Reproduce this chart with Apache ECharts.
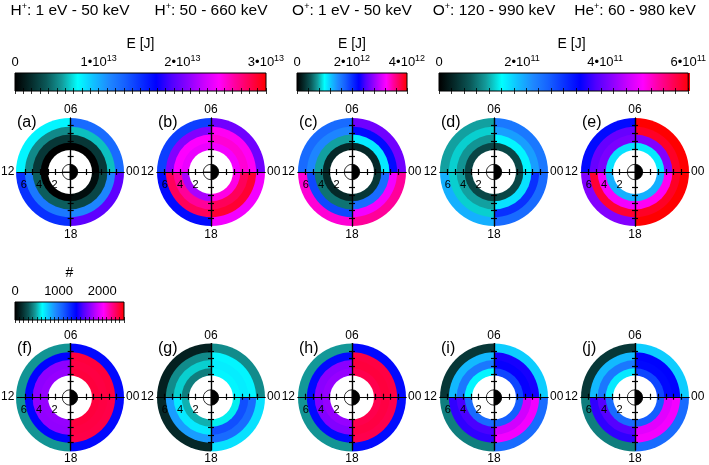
<!DOCTYPE html>
<html><head><meta charset="utf-8">
<script src="https://cdn.jsdelivr.net/npm/echarts@6/dist/echarts.min.js"></script>
<style>html,body{margin:0;padding:0;background:#fff}#c{width:709px;height:465px}</style>
</head><body><div id="c"></div><script>
// ================= DATA =================
const sectors = ['06-00', '00-18', '18-12', '12-06'];      // MLT quadrants
const lBins = [2.85, 3.8, 4.85, 5.85, 7.0];                 // radial bin edges [R_E]
const earthRadius = 1;
const crossTicks = [-6, -5, -4, -3, -2, 2, 3, 4, 5, 6];
const crossLabels = [-6, -4, -2];
const panelLetters = ['(a)', '(b)', '(c)', '(d)', '(e)', '(f)', '(g)', '(h)', '(i)', '(j)'];
const ionNames = ['H', 'H', 'O', 'O', 'He'];
const energyRanges = [': 1 eV - 50 keV', ': 50 - 660 keV', ': 1 eV - 50 keV', ': 120 - 990 keV', ': 60 - 980 keV'];

// each panel: per sector [ring1(inner) .. ring4(outer)]
const panel_a = [[0.00e13, 0.24e13, 0.63e13, 1.26e13], [0.06e13, 0.30e13, 1.14e13, 1.92e13], [0.00e13, 0.39e13, 1.20e13, 1.50e13], [0.00e13, 0.24e13, 0.51e13, 0.78e13]];
const panel_b = [[2.40e13, 2.52e13, 2.46e13, 1.98e13], [2.49e13, 2.79e13, 2.88e13, 2.40e13], [2.16e13, 2.64e13, 2.79e13, 1.65e13], [2.37e13, 2.43e13, 2.04e13, 1.44e13]];
const panel_c = [[0.24e12, 1.08e12, 2.20e12, 2.64e12], [0.32e12, 1.68e12, 3.20e12, 3.52e12], [0.24e12, 0.60e12, 1.88e12, 3.36e12], [0.24e12, 0.76e12, 1.52e12, 1.68e12]];
const panel_d = [[0.60e11, 1.56e11, 2.10e11, 2.40e11], [0.60e11, 1.68e11, 3.00e11, 2.52e11], [0.60e11, 1.14e11, 1.32e11, 1.98e11], [0.60e11, 1.08e11, 1.32e11, 1.14e11]];
const panel_e = [[1.62e11, 4.08e11, 5.82e11, 6.00e11], [1.98e11, 4.92e11, 5.82e11, 6.00e11], [1.98e11, 4.80e11, 5.76e11, 4.08e11], [1.68e11, 4.02e11, 3.90e11, 3.30e11]];
const panel_f = [[2380, 2370, 2380, 1380], [2380, 2370, 2360, 1380], [1750, 1740, 1400, 450], [1750, 1730, 1400, 450]];
const panel_g = [[650, 670, 650, 430], [600, 1150, 1050, 700], [500, 680, 880, 150], [400, 550, 430, 120]];
const panel_h = [[2350, 2380, 2370, 1380], [2350, 2370, 2350, 1370], [1750, 1700, 1380, 450], [1750, 1720, 1380, 460]];
const panel_i = [[1180, 1420, 1450, 750], [1100, 1900, 2000, 1050], [1050, 1550, 1500, 400], [650, 1000, 800, 200]];
const panel_j = [[1180, 1380, 1400, 750], [1100, 1950, 2000, 1050], [1050, 1580, 1500, 400], [680, 1000, 800, 200]];
const panels = [panel_a, panel_b, panel_c, panel_d, panel_e, panel_f, panel_g, panel_h, panel_i, panel_j];
const panelScale = [0, 0, 1, 2, 2, 3, 3, 3, 3, 3];

// colour scales
const scaleRanges = [[0, 3e13], [0, 4e12], [0, 6e11], [0, 2500]];
const scaleTickSteps = [1e12, 4e11, 3e10, 100];
const scaleLabels = [[0, 1e13, 2e13, 3e13], [0, 2e12, 4e12], [0, 2e11, 4e11, 6e11], [0, 1000, 2000]];
const scaleNames = ['E [J]', 'E [J]', 'E [J]', '#'];
const cmap = ['#000000', '#052a2a', '#0b5858', '#139c9c', '#00ffff', '#10c0ff', '#1e88ff', '#1560ff', '#0830ff',
              '#0000ff', '#5000ff', '#8a00ff', '#c800ff', '#ff00ff', '#ff00a0', '#ff0050', '#ff0000'];

// ================= LAYOUT =================
const FONT = '"Liberation Sans", Arial, Helvetica, sans-serif';
const colX = [70, 211, 352, 494, 635];
const rowY = [172, 397.5];
const R = 54;
const cbBoxes = [
  {left: 15, top: 73, width: 251, height: 18},
  {left: 297, top: 73, width: 110, height: 18},
  {left: 439, top: 73, width: 251, height: 18},
  {left: 15, top: 302, width: 109, height: 18}
];
const cbNamePad = [[0, 0, 0, 0], [0, 0, 0, 0], [0, 0, 0, 16], [0, 0, 0, 0]];
const earthSide = ['#000', '#000', '#fff', '#fff'];

const polar = [], angleAxis = [], radiusAxis = [], series = [], grid = [], xAxis = [], yAxis = [], graphic = [];
const vmSeries = [[], [], [], []];
const rMax = lBins[lBins.length - 1];
const hidden = {axisLine: {show: false}, axisTick: {show: false}, axisLabel: {show: false}, splitLine: {show: false}};
const axLine = {color: '#000', width: 1.2};

panels.forEach((pd, i) => {
  const cx = colX[i % 5], cy = rowY[Math.floor(i / 5)];
  polar.push({center: [cx, cy], radius: R});
  angleAxis.push(Object.assign({polarIndex: i, type: 'category', data: sectors, startAngle: 90, clockwise: true}, hidden));
  radiusAxis.push(Object.assign({polarIndex: i, type: 'value', min: 0, max: rMax}, hidden));
  const base = {type: 'bar', coordinateSystem: 'polar', polarIndex: i, barGap: '-100%', barCategoryGap: '0%',
    silent: true, animation: false};
  // rings drawn from the outside in; each bar reaches the ring's outer edge
  for (let k = 3; k >= 0; k--) {
    vmSeries[panelScale[i]].push(series.length);
    series.push(Object.assign({}, base, {
      itemStyle: {borderWidth: 0},
      data: sectors.map((s, q) => [lBins[k + 1], q, pd[q][k]])
    }));
  }
  series.push(Object.assign({}, base, {
    data: sectors.map((s, q) => [lBins[0], q]),
    itemStyle: {color: '#fff', borderWidth: 0}
  }));
  series.push(Object.assign({}, base, {
    data: sectors.map((s, q) => ({value: [earthRadius, q], itemStyle: {color: earthSide[q]}})),
    itemStyle: {borderColor: '#000', borderWidth: 0.8}
  }));
  // cross axes (lines + ticks)
  const gi = grid.length;
  grid.push({left: cx - R, top: cy - R, width: 2 * R, height: 2 * R, z: 10});
  const xa = (g, pos, extra) => Object.assign({
    gridIndex: g, type: 'value', position: pos, min: -rMax, max: rMax, z: 10,
    splitLine: {show: false},
    axisLine: {onZero: true, lineStyle: axLine},
    axisTick: {show: true, inside: false, length: 3, customValues: crossTicks, lineStyle: axLine},
    axisLabel: {show: false},
    nameTextStyle: {fontSize: 12, fontFamily: FONT, color: '#000'}
  }, extra);
  const sideName = {fontSize: 12, fontFamily: FONT, color: '#000', padding: [0, 0, 5, 0]};
  xAxis.push(xa(gi, 'bottom', {name: '12', nameLocation: 'start', nameGap: 3, nameTextStyle: sideName}));
  xAxis.push(xa(gi, 'top', {name: '00', nameLocation: 'end', nameGap: 2, nameTextStyle: sideName}));
  yAxis.push(xa(gi, 'left', {name: '18', nameLocation: 'start', nameGap: 3}));
  yAxis.push(xa(gi, 'right', {name: '06', nameLocation: 'end', nameGap: 2}));
  // radial distance labels under the 12 MLT half-axis
  const gl = grid.length;
  grid.push({left: cx - R, top: cy - R, width: 2 * R, height: R, z: 10});
  xAxis.push({gridIndex: gl, type: 'value', position: 'bottom', min: -rMax, max: rMax, z: 10,
    axisLine: {show: false, onZero: false}, axisTick: {show: false}, splitLine: {show: false},
    axisLabel: {show: true, customValues: crossLabels, formatter: v => String(Math.abs(v)), margin: 7,
      fontSize: 11, fontFamily: FONT, color: '#000'}});
  yAxis.push({gridIndex: gl, type: 'value', min: 0, max: 1, show: false});
  graphic.push({type: 'text', x: cx - 53, y: cy - 49, z: 20,
    style: {text: panelLetters[i], fontSize: 16, fontFamily: FONT, fill: '#000', align: 'left', verticalAlign: 'middle'}});
});

// titles
ionNames.forEach((ion, c) => {
  graphic.push({type: 'text', x: colX[c], y: 11, z: 20, style: {
    text: '{n|' + ion + '}{s|+}{n|' + energyRanges[c] + '}', align: 'center', verticalAlign: 'middle',
    rich: {n: {fontSize: 15.5, fontFamily: FONT, fill: '#000', lineHeight: 18},
           s: {fontSize: 9, fontFamily: FONT, fill: '#000', lineHeight: 9, verticalAlign: 'top'}}
  }});
});

// colour bars
const sci = v => {
  if (v === 0) return '{b|0}';
  const e = Math.floor(Math.log10(v) + 1e-9);
  const m = Math.round(v / Math.pow(10, e));
  return '{b|' + m + '•10}{s|' + e + '}';
};
const grad = new echarts.graphic.LinearGradient(0, 0, 1, 0, cmap.map((c, i) => ({offset: i / (cmap.length - 1), color: c})));
cbBoxes.forEach((cb, j) => {
  graphic.push({type: 'rect', z: 0, shape: {x: cb.left, y: cb.top, width: cb.width, height: cb.height}, style: {fill: grad}});
  const gi = grid.length;
  grid.push(Object.assign({show: true, borderColor: '#000', borderWidth: 1, backgroundColor: 'transparent', z: 5}, cb));
  const common = {gridIndex: gi, type: 'value', min: scaleRanges[j][0], max: scaleRanges[j][1], interval: scaleTickSteps[j], z: 10,
    splitLine: {show: false}, axisLine: {show: false},
    axisTick: {show: true, inside: true, length: 3, lineStyle: {color: '#000', width: 0.8}}};
  xAxis.push(Object.assign({}, common, {position: 'top',
    name: scaleNames[j], nameLocation: 'middle', nameGap: 22,
    nameTextStyle: {fontSize: 14, fontFamily: FONT, color: '#000', padding: cbNamePad[j]},
    axisLabel: {show: true, customValues: scaleLabels[j], margin: 3, showMinLabel: true, showMaxLabel: true,
      formatter: v => j === 3 ? '{b|' + v + '}' : sci(v),
      rich: {b: {fontSize: 13, fontFamily: FONT, color: '#000', lineHeight: 16},
             s: {fontSize: 9, fontFamily: FONT, color: '#000', lineHeight: 9, verticalAlign: 'top'}}}}));
  xAxis.push(Object.assign({}, common, {position: 'bottom', axisLabel: {show: false}}));
  yAxis.push({gridIndex: gi, type: 'value', show: false});
});

const visualMap = scaleRanges.map((rg, j) => ({
  type: 'continuous', show: false, min: rg[0], max: rg[1], dimension: 2,
  seriesIndex: vmSeries[j], inRange: {color: cmap}
}));

const chart = echarts.init(document.getElementById('c'), null, {renderer: 'canvas'});
chart.setOption({
  animation: false,
  backgroundColor: '#fff',
  textStyle: {fontFamily: FONT},
  polar, angleAxis, radiusAxis, grid, xAxis, yAxis, visualMap, series, graphic
});
</script></body></html>
